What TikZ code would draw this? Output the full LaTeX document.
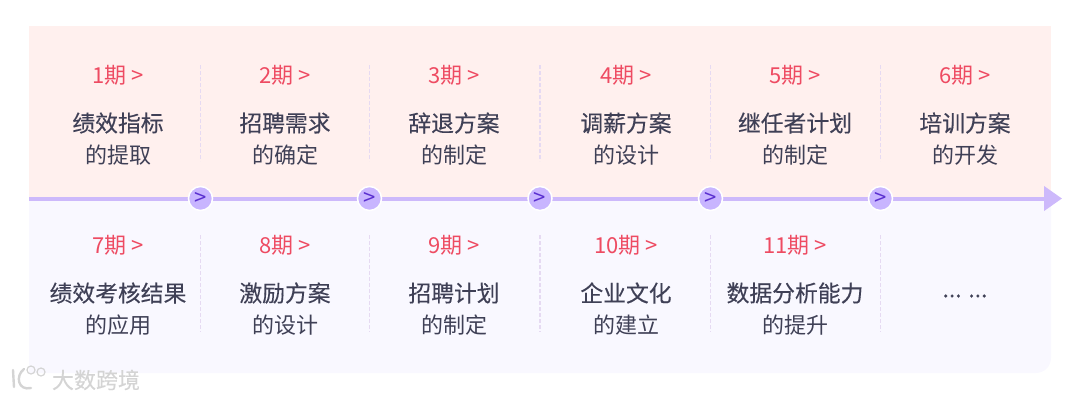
\documentclass[tikz,border=0pt]{standalone}
\usepackage{fontspec}
\setmainfont{Noto Sans CJK SC}
\newfontfamily\namefont[FakeBold=0.25]{Noto Sans CJK SC}
\usetikzlibrary{arrows.meta,calc,positioning}
\definecolor{panelpink}{HTML}{FFF0EE}
\definecolor{panelviolet}{HTML}{F9F8FF}
\definecolor{lineviolet}{HTML}{CDB9FB}
\definecolor{dotviolet}{HTML}{C8B5FF}
\definecolor{chevron}{HTML}{5A30D0}
\definecolor{termred}{HTML}{EE4B62}
\definecolor{titleink}{HTML}{3F4056}
\definecolor{dividerline}{HTML}{E6DAF2}
\definecolor{markgray}{HTML}{D4D4D4}
\tikzset{
  timetip/.style   = {-{Triangle[length=18pt,width=24pt]}, line width=4pt, lineviolet},
  stepdot/.style   = {circle, fill=dotviolet, draw=white, line width=1.5pt, inner sep=0pt,
                      minimum size=24pt, text=chevron, font=\fontsize{22}{22}\selectfont},
  divider/.style   = {line width=1.2pt, dividerline, dash pattern=on 3.5pt off 2.5pt},
  termlabel/.style = {text=termred, font=\fontsize{22}{22}\selectfont},
  title/.style     = {text=titleink, font=\namefont\fontsize{22.8}{22.8}\selectfont},
  subtitle/.style  = {text=titleink, font=\fontsize{22}{22}\selectfont},
  watermark/.style = {text=markgray, font=\namefont\fontsize{22}{22}\selectfont},
}
\begin{document}
\begin{tikzpicture}[x=1pt,y=-1pt]
  \useasboundingbox (0,0) rectangle (1080,400);
  % panels
  \fill[panelviolet] (29,198) -- (1051,198) -- (1051,358) arc[start angle=0,end angle=90,radius=15]
    -- (29,373) -- cycle;
  \fill[panelpink] (29,26) rectangle (1051,198);

  % terms, upper row
  \foreach \i/\x/\one/\two in {1/118/绩效指标/的提取,2/285/招聘需求/的确定,3/454/辞退方案/的制定,
                               4/626/调薪方案/的设计,5/795/继任者计划/的制定,6/965/培训方案/的开发} {
    \node[termlabel] (term\i) at (\x,75) {{\i}期 >};
    \node[title] (name\i) at (\x,123) {\one};
    \node[subtitle] (sub\i) at (\x,155) {\two};
  }
  % terms, lower row
  \foreach \i/\x/\one/\two in {7/118/绩效考核结果/的应用,8/285/激励方案/的设计,9/454/招聘计划/的制定,
                               10/626/企业文化/的建立,11/795/数据分析能力/的提升} {
    \node[termlabel] (term\i) at (\x,245) {{\i}期 >};
    \node[title] (name\i) at (\x,293) {\one};
    \node[subtitle] (sub\i) at (\x,325) {\two};
  }
  \node[title] (more) at (965,296) {... ...};

  % dividers
  \foreach \x in {200.5,369.5,540,710.5,880.5} {
    \draw[divider] (\x,65) -- (\x,161);
    \draw[divider] (\x,235) -- (\x,332);
  }

  % time line
  \coordinate (linestart) at (29,198.5);
  \coordinate (lineend) at (1062,198.5);
  \draw[timetip] (linestart) -- (lineend);
  \foreach \i/\x in {1/200.5,2/369.5,3/540,4/710.5,5/880.5} {
    \node[stepdot] (dot\i) at (\x,198.5) {>};
  }

  % watermark
  \draw[markgray, line width=2.4pt, line cap=round] (13,370) -- (14,387)
    (24,369) .. controls (15,376) and (18,391) .. (31,388);
  \draw[markgray, line width=1.2pt] (31,370) circle[radius=4] (41,372) circle[radius=4];
  \node[watermark] (markname) at (96,380) {大数跨境};
\end{tikzpicture}
\end{document}
